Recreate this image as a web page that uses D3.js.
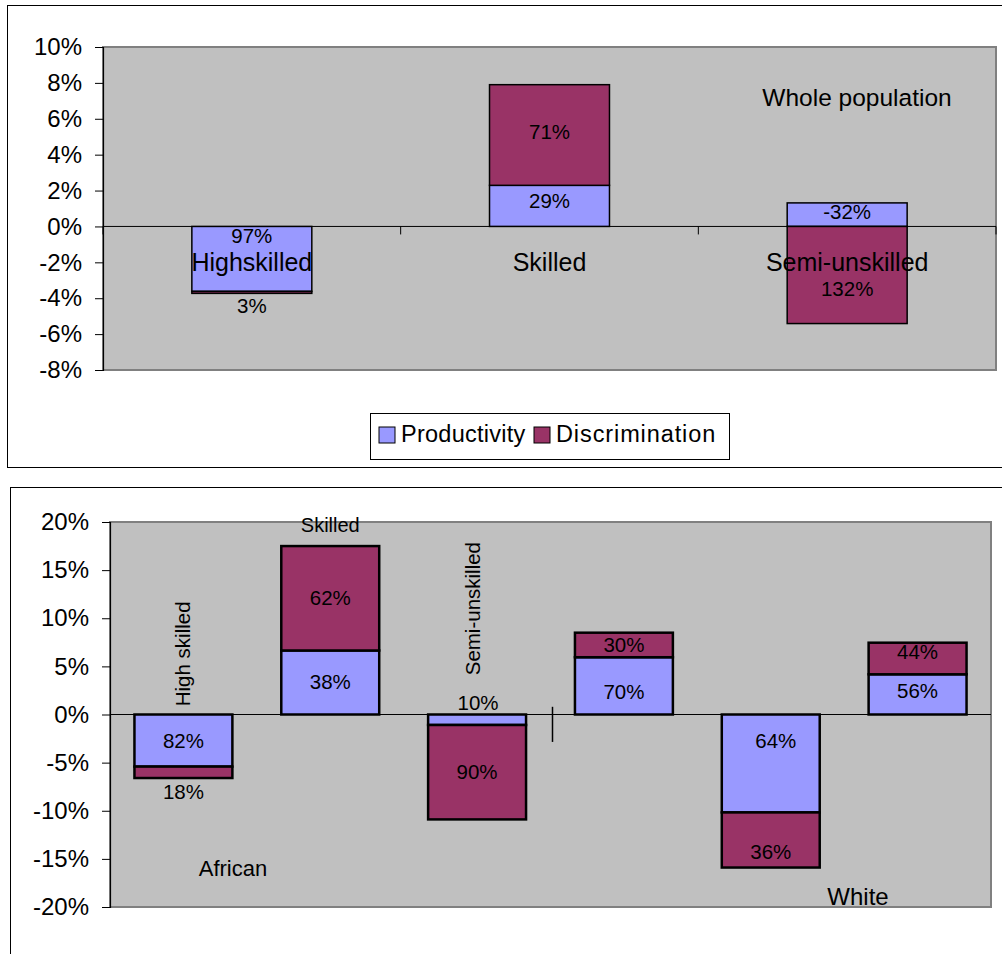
<!DOCTYPE html>
<html>
<head>
<meta charset="utf-8">
<script src="https://cdn.jsdelivr.net/npm/d3@7"></script>
<style>
  html, body { margin: 0; padding: 0; background: #fff; }
  svg text { font-family: "Liberation Sans", Arial, sans-serif; fill: #000; }
</style>
</head>
<body>
<svg id="chart" width="1002" height="954"></svg>
<script>
// ---- Data ----
const seriesNames = ["Productivity", "Discrimination"];
const seriesColors = ["#9999FF", "#993366"];

// Whole population: total gap per skill level and the share explained by productivity (%)
const topCategories = ["Highskilled", "Skilled", "Semi-unskilled"];
const topTotals = [-3.73, 7.9, -4.1];
const topProductivityShare = [97, 29, -32];
const topTicks = [10, 8, 6, 4, 2, 0, -2, -4, -6, -8];

// By population group
const bottomGroups = ["African", "African", "African", "White", "White", "White"];
const bottomSkills = ["High skilled", "Skilled", "Semi-unskilled", "High skilled", "Skilled", "Semi-unskilled"];
const bottomTotals = [-6.6, 17.5, -10.9, 8.5, -15.9, 7.46];
const bottomProductivityShare = [82, 38, 10, 70, 64, 56];
const bottomTicks = [20, 15, 10, 5, 0, -5, -10, -15, -20];

// ---- Helpers ----
function buildRows(keys, totals, shares) {
  return keys.map((k, i) => {
    const prod = totals[i] * shares[i] / 100;
    return {
      key: k,
      Productivity: prod,
      Discrimination: totals[i] - prod,
      share: { Productivity: shares[i], Discrimination: 100 - shares[i] }
    };
  });
}

const svg = d3.select("#chart");
const FONT = "'Liberation Sans', Arial, sans-serif";

function drawPanel(opt) {
  const g = svg.append("g");
  const rows = opt.rows;

  // outer chart frame
  g.append("rect")
    .attr("x", opt.frame[0] + 0.5).attr("y", opt.frame[1] + 0.5)
    .attr("width", opt.frame[2]).attr("height", opt.frame[3])
    .attr("fill", "#fff").attr("stroke", "#000").attr("stroke-width", 1);

  const x = d3.scaleBand()
    .domain(rows.map(r => r.key))
    .range([opt.plot.left, opt.plot.right])
    .paddingInner(opt.padding).paddingOuter(opt.padding / 2);
  const y = d3.scaleLinear().domain(opt.yDomain).range([opt.plot.bottom, opt.plot.top]);

  // plot area
  g.append("rect")
    .attr("x", opt.plot.left).attr("y", opt.plot.top)
    .attr("width", opt.plot.right - opt.plot.left)
    .attr("height", opt.plot.bottom - opt.plot.top)
    .attr("fill", "#C0C0C0").attr("stroke", "#808080").attr("stroke-width", 2);

  // value axis
  const yAxis = d3.axisLeft(y).tickValues(opt.ticks).tickSize(8).tickPadding(13)
    .tickFormat(d => d + "%");
  const ya = g.append("g").attr("transform", `translate(${opt.plot.left},0)`).call(yAxis);
  ya.select(".domain").attr("stroke", "#000").attr("stroke-width", 1.2);
  ya.selectAll(".tick line").attr("stroke", "#000");
  ya.selectAll(".tick text").attr("font-size", opt.tickFont).attr("font-family", FONT).attr("fill", "#000");

  // bars
  const stack = d3.stack().keys(seriesNames).offset(d3.stackOffsetDiverging);
  const layers = stack(rows);
  layers.forEach((layer, li) => {
    g.append("g").selectAll("rect").data(layer).join("rect")
      .attr("x", d => x(d.data.key))
      .attr("width", x.bandwidth())
      .attr("y", d => y(Math.max(d[0], d[1])))
      .attr("height", d => Math.abs(y(d[0]) - y(d[1])))
      .attr("fill", seriesColors[li])
      .attr("stroke", "#000").attr("stroke-width", opt.barStroke);
  });

  // zero line
  g.append("line")
    .attr("x1", opt.plot.left).attr("x2", opt.plot.right)
    .attr("y1", y(0)).attr("y2", y(0))
    .attr("stroke", "#000").attr("stroke-width", 1);

  // data labels (share of the total gap)
  layers.forEach((layer, li) => {
    const nudge = opt.labelNudge[seriesNames[li]];
    g.append("g").selectAll("text").data(layer).join("text")
      .attr("x", (d, i) => x(d.data.key) + x.bandwidth() / 2 + (nudge.dx ? nudge.dx[i] : 0))
      .attr("y", (d, i) => (y(d[0]) + y(d[1])) / 2 + nudge.dy[i])
      .attr("dy", "0.35em")
      .attr("text-anchor", "middle")
      .attr("font-size", opt.labelFont)
      .text(d => d.data.share[seriesNames[li]] + "%");
  });

  return { g, x, y };
}

// ---- Whole population ----
const topRows = buildRows(topCategories, topTotals, topProductivityShare);
const wholePanel = drawPanel({
  rows: topRows,
  frame: [7, 5, 1010, 462],
  plot: { left: 103, right: 996, top: 47, bottom: 370 },
  padding: 0.597,
  yDomain: [-8, 10],
  ticks: topTicks,
  tickFont: 24,
  labelFont: 20.5,
  barStroke: 1.5,
  labelNudge: {
    Productivity: { dy: [-23, -5, -3] },
    Discrimination: { dy: [13, -3, 13.5] }
  }
});
// category ticks hanging below the zero line
[0, 1, 2, 3].forEach(i => {
  const xx = 103 + i * wholePanel.x.step();
  wholePanel.g.append("line").attr("x1", xx).attr("x2", xx)
    .attr("y1", wholePanel.y(0)).attr("y2", wholePanel.y(0) + 8).attr("stroke", "#000");
});

// category names sit just below the zero line
wholePanel.g.append("g").selectAll("text").data(topCategories).join("text")
  .attr("x", d => wholePanel.x(d) + wholePanel.x.bandwidth() / 2)
  .attr("y", wholePanel.y(-2))
  .attr("dy", "0.35em")
  .attr("text-anchor", "middle")
  .attr("font-size", 25)
  .text(d => d);

wholePanel.g.append("text")
  .attr("x", 857).attr("y", wholePanel.y(7.2)).attr("dy", "0.35em")
  .attr("text-anchor", "middle").attr("font-size", 24.5)
  .text("Whole population");

// legend
const legend = wholePanel.g.append("g").attr("transform", "translate(370,413)");
legend.append("rect").attr("x", 0.5).attr("y", 0.5).attr("width", 359).attr("height", 46)
  .attr("fill", "#fff").attr("stroke", "#000");
const legendX = [9, 164];
seriesNames.forEach((s, i) => {
  legend.append("rect").attr("x", legendX[i]).attr("y", 14).attr("width", 16).attr("height", 16)
    .attr("fill", seriesColors[i]).attr("stroke", "#000");
  legend.append("text").attr("x", legendX[i] + 22).attr("y", 21).attr("dy", "0.35em")
    .attr("font-size", 23.5).attr("letter-spacing", i === 1 ? 0.9 : 0.25).text(s);
});

// ---- By population group ----
const bottomKeys = bottomGroups.map((gname, i) => gname + " " + bottomSkills[i]);
const bottomRows = buildRows(bottomKeys, bottomTotals, bottomProductivityShare);
const groupPanel = drawPanel({
  rows: bottomRows,
  frame: [10, 487, 1010, 480],
  plot: { left: 110, right: 991, top: 522, bottom: 907 },
  padding: 0.333,
  yDomain: [-20, 20],
  ticks: bottomTicks,
  tickFont: 24,
  labelFont: 20.5,
  barStroke: 2.5,
  labelNudge: {
    Productivity: { dy: [0, -1, -17, 6, -23, -4], dx: [0, 0, 1, 0, 5, 0] },
    Discrimination: { dy: [20, 0, 0, 0, 12, -7] }
  }
});

// separator between the two population groups
const sepX = 110 + 3 * groupPanel.x.step() + 2;
groupPanel.g.append("line").attr("x1", sepX).attr("x2", sepX)
  .attr("y1", groupPanel.y(0.8)).attr("y2", groupPanel.y(-2.85))
  .attr("stroke", "#000").attr("stroke-width", 1.5);

// skill level names for the first group
const skillLabelAt = [
  { v: 6.3, rotate: true, dx: -1 },
  { v: 19.7, rotate: false, dx: 0 },
  { v: 11.0, rotate: true, dx: -4 }
];
skillLabelAt.forEach((p, i) => {
  const cx = groupPanel.x(bottomKeys[i]) + groupPanel.x.bandwidth() / 2 + p.dx;
  const cy = groupPanel.y(p.v);
  groupPanel.g.append("text")
    .attr("transform", `translate(${cx},${cy})` + (p.rotate ? " rotate(-90)" : ""))
    .attr("dy", "0.35em")
    .attr("text-anchor", "middle")
    .attr("font-size", p.rotate ? 20.5 : 20)
    .text(bottomSkills[i]);
});

// population group names
const groupLabels = [
  { name: "African", x: 233, v: -16.0, size: 22 },
  { name: "White", x: 858, v: -18.9, size: 24 }
];
groupLabels.forEach(gl => {
  groupPanel.g.append("text")
    .attr("x", gl.x).attr("y", groupPanel.y(gl.v)).attr("dy", "0.35em")
    .attr("text-anchor", "middle").attr("font-size", gl.size)
    .text(gl.name);
});
</script>
</body>
</html>
